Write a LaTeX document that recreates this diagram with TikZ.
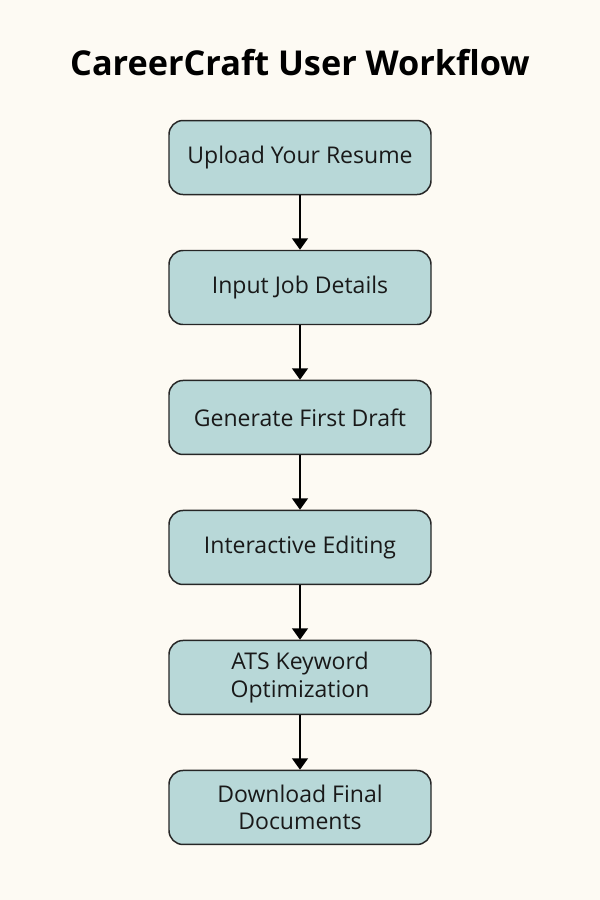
\documentclass[tikz,border=0pt]{standalone}
\usepackage{fontspec}
\setmainfont{Open Sans}
\usepackage{xcolor}
\usepackage{tikz}
\usetikzlibrary{arrows.meta,positioning}

\definecolor{bgcream}{HTML}{FDFAF3}
\definecolor{boxteal}{HTML}{B8D8D8}

\begin{document}
\begin{tikzpicture}[
    stepbox/.style={draw=black!85, line width=0.85pt, fill=boxteal,
      rounded corners=0.28cm, minimum width=5.24cm, minimum height=1.48cm,
      align=center, font=\fontsize{13.1}{15.7}\selectfont, text=black!90},
    flow/.style={-{Triangle[length=6.5pt,width=9pt]}, line width=1.1pt}
  ]
  \fill[bgcream] (0,0) rectangle (12,-18);
  \useasboundingbox (0,0) rectangle (12,-18);
  % title
  \node[font=\fontsize{19.5}{23}\selectfont\bfseries] (title) at (6,-1.26)
    {CareerCraft User Workflow};
  % steps
  \node[stepbox] (upload) at (6,-3.15) {Upload Your Resume};
  \node[stepbox, below=1.09cm of upload] (job) {Input Job Details};
  \node[stepbox, below=1.09cm of job] (draft) {Generate First Draft};
  \node[stepbox, below=1.09cm of draft] (edit) {Interactive Editing};
  \node[stepbox, below=1.09cm of edit] (ats) {ATS Keyword\\Optimization};
  \node[stepbox, below=1.09cm of ats] (download) {Download Final\\Documents};
  % arrows
  \draw[flow] (upload) -- (job);
  \draw[flow] (job) -- (draft);
  \draw[flow] (draft) -- (edit);
  \draw[flow] (edit) -- (ats);
  \draw[flow] (ats) -- (download);
\end{tikzpicture}
\end{document}
